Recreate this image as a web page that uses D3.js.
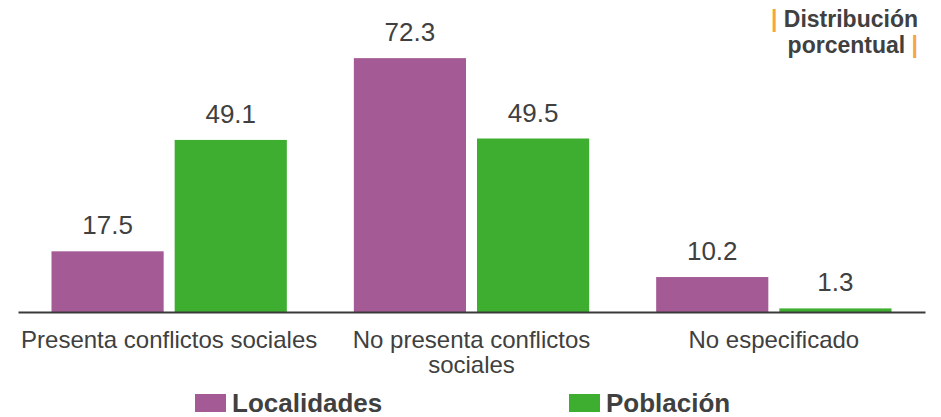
<!DOCTYPE html>
<html>
<head>
<meta charset="utf-8">
<script src="https://cdn.jsdelivr.net/npm/d3@7"></script>
<style>
  html, body { margin: 0; padding: 0; background: #ffffff; }
  svg { display: block; font-family: "Liberation Sans", Arial, sans-serif; }
</style>
</head>
<body>
<svg id="chart" width="941" height="417"></svg>
<script>
// Categories and series values (percent distribution)
const categories = ["Presenta conflictos sociales", "No presenta conflictos sociales", "No especificado"];
const seriesNames = ["Localidades", "Población"];
const localidades = [17.5, 72.3, 10.2];
const poblacion = [49.1, 49.5, 1.3];
const titleLines = ["Distribución", "porcentual"];

const colors = { "Localidades": "#A35A95", "Población": "#3DAE2F" };
const textColor = "#404040";
const accent = "#F7A541";

const data = categories.map((c, i) => ({
  category: c,
  values: [
    { series: "Localidades", value: localidades[i] },
    { series: "Población", value: poblacion[i] }
  ]
}));

const svg = d3.select("#chart");

const x0 = d3.scaleBand().domain(categories).range([18, 925]).paddingInner(0).paddingOuter(0);
const x1 = d3.scaleBand().domain(seriesNames).range([0, x0.bandwidth()]).paddingInner(0.0894).paddingOuter(0.272);
const y = d3.scaleLinear().domain([0, 80]).range([313, 31]);

// Bars
const groups = svg.append("g").selectAll("g")
  .data(data).join("g")
  .attr("transform", d => `translate(${x0(d.category)},0)`);

groups.selectAll("rect")
  .data(d => d.values).join("rect")
  .attr("x", d => x1(d.series))
  .attr("width", x1.bandwidth())
  .attr("y", d => y(d.value))
  .attr("height", d => y(0) - y(d.value))
  .attr("fill", d => colors[d.series]);

// Value labels
groups.selectAll("text.value")
  .data(d => d.values).join("text")
  .attr("class", "value")
  .attr("x", d => x1(d.series) + x1.bandwidth() / 2)
  .attr("y", d => y(d.value) - 17)
  .attr("text-anchor", "middle")
  .attr("font-size", "26px")
  .attr("fill", textColor)
  .text(d => d.value.toFixed(1));

// Baseline axis
const xAxis = d3.axisBottom(x0).tickSize(0).tickFormat("");
const axisG = svg.append("g").attr("transform", "translate(0,312)").call(xAxis);
axisG.select(".domain").attr("stroke", "#3a3a3a").attr("stroke-width", 2.2);

// Category labels, wrapped to band width
function wrapLines(text, width, fontSize) {
  const tmp = svg.append("text").attr("font-size", fontSize).attr("visibility", "hidden");
  const words = text.split(" ");
  const lines = [];
  let line = [];
  words.forEach(w => {
    line.push(w);
    tmp.text(line.join(" "));
    if (tmp.node().getComputedTextLength() > width && line.length > 1) {
      line.pop();
      lines.push(line.join(" "));
      line = [w];
    }
  });
  lines.push(line.join(" "));
  tmp.remove();
  return lines;
}

categories.forEach(c => {
  const lines = wrapLines(c, x0.step() - 4, "24px");
  const t = svg.append("text")
    .attr("text-anchor", "middle")
    .attr("font-size", "24px")
    .attr("fill", textColor);
  lines.forEach((l, i) => {
    t.append("tspan")
      .attr("x", x0(c) + x0.bandwidth() / 2)
      .attr("y", 348 + i * 25)
      .text(l);
  });
});

// Legend
const legendPos = [195, 569];
const legend = svg.append("g");
seriesNames.forEach((s, i) => {
  legend.append("rect")
    .attr("x", legendPos[i]).attr("y", 394)
    .attr("width", 31).attr("height", 18)
    .attr("fill", colors[s]);
  legend.append("text")
    .attr("x", legendPos[i] + 37).attr("y", 412)
    .attr("font-size", "26px").attr("font-weight", "bold")
    .attr("fill", textColor)
    .text(s);
});

// Title block, right aligned
const title = svg.append("g").attr("font-size", "23px").attr("font-weight", "bold").attr("text-anchor", "end");
const t1 = title.append("text").attr("x", 918).attr("y", 27);
t1.append("tspan").attr("fill", accent).text("| ");
t1.append("tspan").attr("fill", textColor).text(titleLines[0]);
const t2 = title.append("text").attr("x", 918).attr("y", 53);
t2.append("tspan").attr("fill", textColor).text(titleLines[1] + " ");
t2.append("tspan").attr("fill", accent).text("|");
</script>
</body>
</html>
